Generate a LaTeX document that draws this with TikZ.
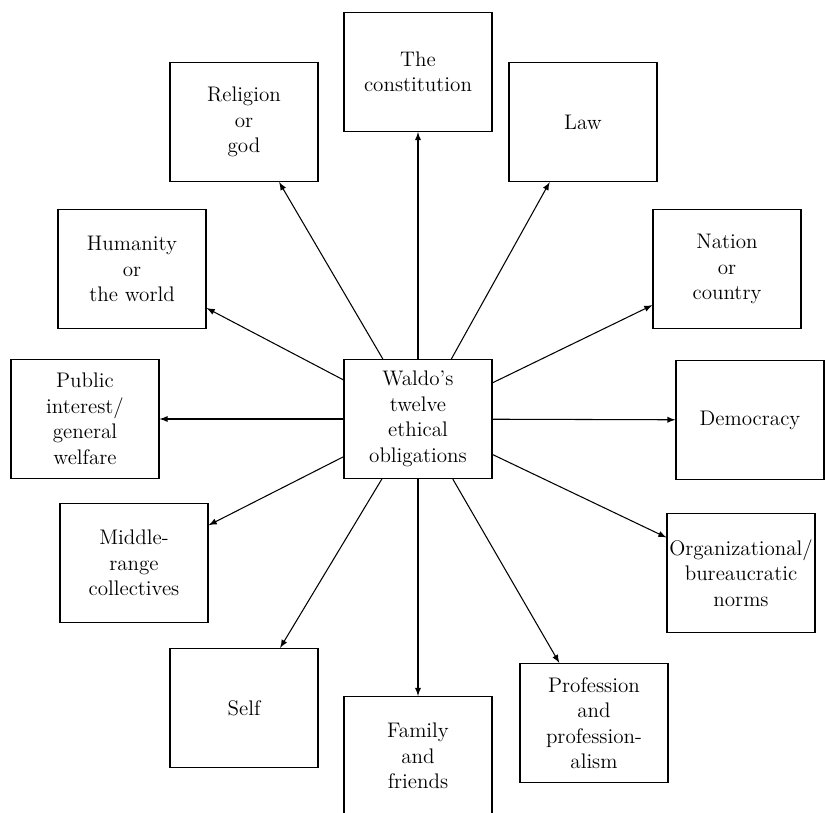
\documentclass[tikz,border=0pt]{standalone}
\usepackage{amsmath}
\usepackage{tikz}

\tikzset{
  obl/.style={draw, line width=0.7pt, minimum width=2.96cm, minimum height=2.38cm,
    align=center, inner sep=0pt, font=\fontsize{12}{14.5}\selectfont},
  arr/.style={->, >=latex, line width=0.6pt}
}

\begin{document}
\begin{tikzpicture}[x=0.02cm, y=-0.02cm]
  \useasboundingbox (0,0) rectangle (830,813);
  \node[obl] (waldo) at (418,419) {Waldo's\\twelve\\ethical\\obligations};
  \node[obl] (cons) at (418,72) {The\\constitution};
  \node[obl] (relig) at (244,122) {Religion\\or\\god};
  \node[obl] (law) at (583,122) {Law};
  \node[obl] (human) at (132,269) {Humanity\\or\\the world};
  \node[obl] (nation) at (727,269) {Nation\\or\\country};
  \node[obl] (public) at (85,419) {Public\\interest/\\general\\welfare};
  \node[obl] (democ) at (750,420) {Democracy};
  \node[obl] (middle) at (134,563) {Middle-\\range\\collectives};
  \node[obl] (org) at (741,573) {Organizational/\\bureaucratic\\norms};
  \node[obl] (self) at (244,708) {Self};
  \node[obl] (prof) at (594,723) {Profession\\and\\profession-\\alism};
  \node[obl] (family) at (418,756) {Family\\and\\friends};
  \foreach \t in {cons,relig,law,human,nation,public,democ,middle,org,self,prof,family}
    \draw[arr] (waldo) -- (\t);
\end{tikzpicture}
\end{document}
